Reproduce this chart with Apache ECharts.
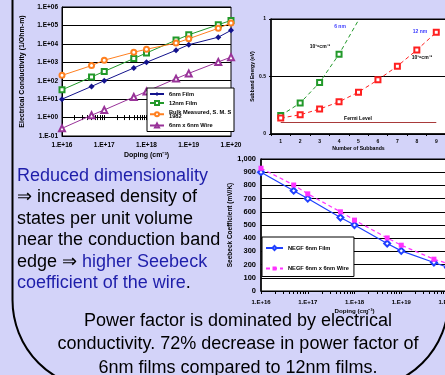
<!DOCTYPE html>
<html><head><meta charset="utf-8">
<script src="https://cdn.jsdelivr.net/npm/echarts@6/dist/echarts.min.js"></script>
<style>html,body{margin:0;padding:0;background:#d3d3f9;}#c{width:445px;height:375px;}</style>
</head><body><div id="c"></div>
<script>
// ---------- Chart 1: Electrical conductivity vs doping ----------
const dopingLevels = [1e16, 5e16, 1e17, 5e17, 1e18, 5e18, 1e19, 5e19, 1e20];
const cond6nmFilm  = [10, 49, 100, 490, 1000, 4500, 9000, 23000, 54000];
const cond12nmFilm = [32, 160, 320, 1600, 3200, 16000, 31000, 110000, 186000];
const condBulk     = [195, 660, 1300, 3500, 5100, 11000, 19000, 70000, 135000];
const condWire     = [0.26, 1.34, 2.6, 13, 26, 130, 250, 1050, 1900];
const condTickExps   = [-1, 0, 1, 2, 3, 4, 5, 6];
const condTickLabels = ['1.E-01','1.E+00','1.E+01','1.E+02','1.E+03','1.E+04','1.E+05','1.E+06'];
const dopingTickExps   = [16, 17, 18, 19, 20];
const dopingTickLabels = ['1.E+16','1.E+17','1.E+18','1.E+19','1.E+20'];

// ---------- Chart 2: Subband energy ----------
const subbandNumbers = ['1','2','3','4','5','6','7','8','9'];
const energy6nm  = [0.161, 0.269, 0.448, 0.694, 0.99];
const energy12nm = [0.139, 0.167, 0.217, 0.280, 0.364, 0.471, 0.590, 0.731, 0.884];
const fermiLevel = [0.1, 0.1, 0.1, 0.1, 0.1, 0.1, 0.1, 0.1, 0.1];
const energyTickLabels = ['0', '0.5', '1'];

// ---------- Chart 3: Seebeck coefficient ----------
const seebeckFilm = [900, 760, 700, 557, 500, 360, 304, 216, 178];
const seebeckWire = [930, 803, 736, 600, 537, 402, 347, 241, 208];

const FONT = 'Arial, "Liberation Sans", Helvetica, sans-serif';
const zip = (xs, ys) => xs.map((x, i) => [x, ys[i]]);
const logLabel = (exps, labels) => v => {
  const e = Math.round(Math.log10(v));
  const i = exps.indexOf(e);
  return i < 0 ? '' : labels[i];
};
// log-spaced tick positions (exponent space) for the decorative minor-tick axes
const logTickExps = [];
for (let e = 16; e < 20; e++) for (let k = 1; k <= 9; k++) logTickExps.push(e + Math.log10(k));
logTickExps.push(20);

const bold = (size) => ({fontSize: size, fontWeight: 'bold', fontFamily: FONT, color: '#000'});
const blackLine = (w) => ({show: true, lineStyle: {color: '#000', width: w || 1}});

const chart = echarts.init(document.getElementById('c'));
chart.setOption({
  animation: false,
  backgroundColor: '#d3d3f9',
  grid: [
    {left: 62, top: 7, width: 169, height: 129, show: true, backgroundColor: '#fff', borderColor: '#000', borderWidth: 1, containLabel: false, outerBoundsMode: 'none'},
    {left: 271, top: 19, width: 175, height: 115, show: true, backgroundColor: '#fff', borderColor: '#000', borderWidth: 1, containLabel: false, outerBoundsMode: 'none'},
    {left: 261, top: 159, width: 187, height: 132, show: true, backgroundColor: '#fff', borderColor: '#000', borderWidth: 1, containLabel: false, outerBoundsMode: 'none'}
  ],
  xAxis: [
    { // 0 chart1 doping
      type: 'log', logBase: 10, gridIndex: 0, min: 1e16, max: 1e20, interval: 1,
      axisLine: blackLine(1), axisTick: {show: false}, splitLine: {show: false},
      axisLabel: Object.assign(bold(6.5), {margin: 6, formatter: logLabel(dopingTickExps, dopingTickLabels)}),
      name: 'Doping (cm\u207B\u00B3)', nameLocation: 'middle', nameGap: 16, nameTextStyle: bold(7)
    },
    { // 1 chart1 ticks along the 1.E+00 line (downward)
      type: 'value', gridIndex: 0, min: 16, max: 20, position: 'bottom', offset: -18.43,
      axisLine: {show: false}, axisLabel: {show: false}, splitLine: {show: false},
      axisTick: {show: true, customValues: logTickExps, length: 2.5, inside: false, lineStyle: {color: '#000', width: 1}}
    },
    { // 2 chart1 ticks along the 1.E+00 line (upward)
      type: 'value', gridIndex: 0, min: 16, max: 20, position: 'bottom', offset: -18.43,
      axisLine: {show: false}, axisLabel: {show: false}, splitLine: {show: false},
      axisTick: {show: true, customValues: logTickExps, length: 2.5, inside: true, lineStyle: {color: '#000', width: 1}}
    },
    { // 3 chart2 subbands
      type: 'category', gridIndex: 1, data: subbandNumbers, boundaryGap: true,
      axisLine: blackLine(1.5), axisTick: {show: true, length: 2, lineStyle: {color: '#000'}},
      axisLabel: Object.assign(bold(5), {margin: 5}), splitLine: {show: false},
      name: 'Number of Subbands', nameLocation: 'middle', nameGap: 12, nameTextStyle: bold(5.2)
    },
    { // 4 chart3 doping
      type: 'log', logBase: 10, gridIndex: 2, min: 1e16, max: 1e20, interval: 1,
      axisLine: blackLine(1), axisTick: {show: false}, splitLine: {show: false},
      axisLabel: Object.assign(bold(6), {margin: 8, formatter: logLabel(dopingTickExps, dopingTickLabels)}),
      name: 'Doping (cm\u207B\u00B3)', nameLocation: 'middle', nameGap: 17, nameTextStyle: bold(6.2)
    },
    { // 5 chart3 log ticks
      type: 'value', gridIndex: 2, min: 16, max: 20, position: 'bottom',
      axisLine: {show: false}, axisLabel: {show: false}, splitLine: {show: false},
      axisTick: {show: true, customValues: logTickExps, length: 3, inside: false, lineStyle: {color: '#000', width: 1}}
    }
  ],
  yAxis: [
    {
      type: 'log', logBase: 10, gridIndex: 0, min: 0.1, max: 1e6, interval: 1,
      axisLine: blackLine(1), axisTick: {show: false},
      splitLine: {show: true, lineStyle: {color: '#000', width: 1}},
      axisLabel: Object.assign(bold(6.5), {margin: 4, formatter: logLabel(condTickExps, condTickLabels)}),
      name: 'Electrical Conductivity (1/Ohm-m)', nameLocation: 'middle', nameGap: 36, nameTextStyle: bold(7)
    },
    {
      type: 'value', gridIndex: 1, min: 0, max: 1, interval: 0.5,
      axisLine: blackLine(1.5), axisTick: {show: true, length: 2, lineStyle: {color: '#000'}},
      splitLine: {show: true, lineStyle: {color: '#000', width: 1}},
      axisLabel: Object.assign(bold(5), {margin: 5, formatter: v => energyTickLabels[Math.round(v * 2)]}),
      name: 'Subband Energy (eV)', nameLocation: 'middle', nameGap: 15, nameTextStyle: bold(5)
    },
    {
      type: 'value', gridIndex: 2, min: 0, max: 1000, interval: 100,
      axisLine: blackLine(1.5), axisTick: {show: false},
      splitLine: {show: true, lineStyle: {color: '#000', width: 1}},
      axisLabel: Object.assign(bold(7.5), {margin: 5}),
      name: 'Seebeck Coefficient (mV/K)', nameLocation: 'middle', nameGap: 25, nameTextStyle: bold(6.5)
    }
  ],
  legend: [
    {
      data: ['6nm Film', '12nm Film', 'Bulk Measured, S. M. Sze, 1982', '6nm x 6nm Wire'],
      left: 147, top: 88, orient: 'vertical', selectedMode: false,
      itemWidth: 14, itemHeight: 5, itemGap: 3, padding: [3, 1, 3, 2],
      backgroundColor: '#fff', borderColor: '#000', borderWidth: 1,
      formatter: n => n.replace(', 1982', ',\n1982'),
      textStyle: Object.assign(bold(5.7), {lineHeight: 4.5, width: 64, overflow: 'truncate', ellipsis: ''})
    },
    {
      data: ['NEGF 6nm Film', 'NEGF 6nm x 6nm Wire'],
      left: 262, top: 237, orient: 'vertical', selectedMode: false,
      itemWidth: 17, itemHeight: 5, itemGap: 14.5, padding: [8, 5, 5, 3],
      backgroundColor: '#fff', borderColor: '#000', borderWidth: 1,
      textStyle: bold(5.7)
    }
  ],
  series: [
    {name: '6nm Film', type: 'line', xAxisIndex: 0, yAxisIndex: 0, data: zip(dopingLevels, cond6nmFilm),
     symbol: 'diamond', symbolSize: 6, lineStyle: {color: '#12128c', width: 1}, itemStyle: {color: '#12128c'}},
    {name: '12nm Film', type: 'line', xAxisIndex: 0, yAxisIndex: 0, data: zip(dopingLevels, cond12nmFilm),
     symbol: 'emptyRect', symbolSize: 5, lineStyle: {color: '#22992a', width: 1}, itemStyle: {color: '#22992a', borderWidth: 1}},
    {name: 'Bulk Measured, S. M. Sze, 1982', type: 'line', xAxisIndex: 0, yAxisIndex: 0, data: zip(dopingLevels, condBulk),
     symbol: 'emptyCircle', symbolSize: 5, lineStyle: {color: '#ff8020', width: 1}, itemStyle: {color: '#ff8020', borderWidth: 1}},
    {name: '6nm x 6nm Wire', type: 'line', xAxisIndex: 0, yAxisIndex: 0, data: zip(dopingLevels, condWire),
     symbol: 'emptyTriangle', symbolSize: 6, lineStyle: {color: '#993399', width: 1}, itemStyle: {color: '#993399', borderWidth: 1}},

    {name: '6 nm', type: 'line', xAxisIndex: 3, yAxisIndex: 1,
     data: energy6nm.map((v, i) => i === energy6nm.length - 1 ? {value: v, symbol: 'none'} : v),
     symbol: 'emptyRect', symbolSize: 5, lineStyle: {color: '#22992a', width: 1, type: [4, 3]}, itemStyle: {color: '#22992a', borderWidth: 1}},
    {name: '12 nm', type: 'line', xAxisIndex: 3, yAxisIndex: 1, data: energy12nm,
     symbol: 'emptyRect', symbolSize: 5, lineStyle: {color: '#ff2020', width: 1, type: [4, 3]}, itemStyle: {color: '#ff2020', borderWidth: 1}},
    {name: 'Fermi Level', type: 'line', xAxisIndex: 3, yAxisIndex: 1, data: fermiLevel,
     symbol: 'none', lineStyle: {color: '#a83a3a', width: 1.2}},

    {name: 'NEGF 6nm Film', type: 'line', xAxisIndex: 4, yAxisIndex: 2, data: zip(dopingLevels, seebeckFilm),
     symbol: 'emptyDiamond', symbolSize: 6, lineStyle: {color: '#2040ff', width: 1.2}, itemStyle: {color: '#2040ff', borderWidth: 1}},
    {name: 'NEGF 6nm x 6nm Wire', type: 'line', xAxisIndex: 4, yAxisIndex: 2, data: zip(dopingLevels, seebeckWire),
     symbol: 'rect', symbolSize: 5, lineStyle: {color: '#ff33ff', width: 1.2, type: [4, 3]}, itemStyle: {color: '#ff33ff'}}
  ],
  graphic: [
    {type: 'rect', z: -1, shape: {x: 12.5, y: -300, width: 436, height: 689, r: 89},
     style: {fill: 'none', stroke: '#000', lineWidth: 2}, silent: true},
    {type: 'text', x: 17, y: 165, style: {
      text: '{b|Reduced dimensionality}\n\u21D2 increased density of\nstates per unit volume\nnear the conduction band\nedge \u21D2 {b|higher Seebeck}\n{b|coefficient of the wire}.',
      fontSize: 18, fontFamily: FONT, fill: '#000', lineHeight: 21.5,
      rich: {b: {fill: '#1e1eaa', fontSize: 18, fontFamily: FONT, lineHeight: 21.5}}}},
    {type: 'text', x: 238, y: 309, style: {
      text: 'Power factor is dominated by electrical\nconductivity. 72% decrease in power factor of\n6nm films compared to 12nm films.',
      fontSize: 18, fontFamily: FONT, fill: '#000', lineHeight: 23.5, align: 'center'}},
    {type: 'text', x: 340, y: 27, style: {text: '6 nm', fontSize: 5, fontWeight: 'bold', fontFamily: FONT, fill: '#3a3aff', align: 'center', verticalAlign: 'middle'}},
    {type: 'text', x: 320, y: 47, style: {text: '10\u00B9\u2079cm\u207B\u00B3', fontSize: 5, fontWeight: 'bold', fontFamily: FONT, fill: '#000', align: 'center', verticalAlign: 'middle'}},
    {type: 'text', x: 420, y: 32, style: {text: '12 nm', fontSize: 5, fontWeight: 'bold', fontFamily: FONT, fill: '#3a3aff', align: 'center', verticalAlign: 'middle'}},
    {type: 'text', x: 422, y: 58, style: {text: '10\u00B9\u2079cm\u207B\u00B3', fontSize: 5, fontWeight: 'bold', fontFamily: FONT, fill: '#000', align: 'center', verticalAlign: 'middle'}},
    {type: 'text', x: 358, y: 119, style: {text: 'Fermi Level', fontSize: 5, fontWeight: 'bold', fontFamily: FONT, fill: '#000', align: 'center', verticalAlign: 'middle'}}
  ]
});
</script>
</body></html>
